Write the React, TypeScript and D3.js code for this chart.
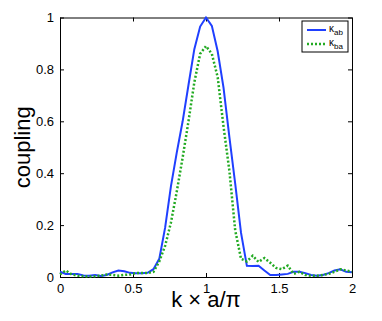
import React, { useEffect, useRef } from "react";
import * as d3 from "d3";

// k*a/pi sample points
const kValues = d3.range(0, 51).map((i) => i * 0.04);

const kappaAb = [
  0.02, 0.012, 0.012, 0.012, 0.006, 0.005, 0.008, 0.004, 0.008, 0.018,
  0.025, 0.022, 0.016, 0.014, 0.014, 0.016, 0.03, 0.07, 0.19, 0.35,
  0.48, 0.6, 0.74, 0.878, 0.965, 1.0, 0.968, 0.87, 0.73, 0.54,
  0.36, 0.17, 0.043, 0.042, 0.043, 0.025, 0.008, 0.008, 0.01, 0.012,
  0.02, 0.02, 0.015, 0.008, 0.005, 0.008, 0.015, 0.025, 0.03, 0.02,
  0.018,
];

const kappaBa = [
  0.01, 0.025, 0.01, 0.005, 0.003, 0.002, 0.003, 0.005, 0.01, 0.008,
  0.005, 0.008, 0.01, 0.015, 0.015, 0.015, 0.02, 0.06, 0.12, 0.21,
  0.33, 0.46, 0.6, 0.75, 0.86, 0.89, 0.86, 0.77, 0.58, 0.41,
  0.18, 0.07, 0.06, 0.082, 0.058, 0.073, 0.055, 0.035, 0.03, 0.044,
  0.012, 0.02, 0.008, 0.005, 0.005, 0.008, 0.012, 0.02, 0.03, 0.025,
  0.02,
];

const xTicks = [0, 0.5, 1, 1.5, 2];
const yTicks = [0, 0.2, 0.4, 0.6, 0.8, 1];

const width = 382,
  height = 321;
const margin = { left: 60, right: 30, top: 17.5, bottom: 44 };

const App = () => {
  const ref = useRef<SVGSVGElement | null>(null);

  useEffect(() => {
    const svg = d3.select(ref.current);
    svg.selectAll("*").remove();

    const x = d3
      .scaleLinear()
      .domain([0, 2])
      .range([margin.left, width - margin.right]);
    const y = d3
      .scaleLinear()
      .domain([0, 1])
      .range([height - margin.bottom, margin.top]);

    svg.append("rect").attr("width", width).attr("height", height).attr("fill", "white");

    const font = "Arial, 'Liberation Sans', sans-serif";

    // axes (ticks inward, box like matlab)
    const bottom = svg
      .append("g")
      .attr("transform", `translate(0,${y(0)})`)
      .call(d3.axisBottom(x).tickValues(xTicks).tickSizeInner(-4).tickSizeOuter(0).tickPadding(7).tickFormat(d3.format("")));
    const left = svg
      .append("g")
      .attr("transform", `translate(${x(0)},0)`)
      .call(d3.axisLeft(y).tickValues(yTicks).tickSizeInner(-4).tickSizeOuter(0).tickPadding(6).tickFormat(d3.format("")));
    svg
      .append("g")
      .attr("transform", `translate(0,${y(1)})`)
      .call(d3.axisTop(x).tickValues(xTicks).tickSizeInner(-4).tickSizeOuter(0).tickFormat(() => ""));
    svg
      .append("g")
      .attr("transform", `translate(${x(2)},0)`)
      .call(d3.axisRight(y).tickValues(yTicks).tickSizeInner(-4).tickSizeOuter(0).tickFormat(() => ""));

    svg.selectAll(".domain").attr("stroke", "#000");
    svg.selectAll(".tick line").attr("stroke", "#000");
    [bottom, left].forEach((g) =>
      g.selectAll(".tick text").attr("font-size", 13).attr("font-family", font).attr("fill", "#000")
    );

    const line = (vals: number[]) =>
      d3
        .line<number>()
        .x((_, i) => x(kValues[i]))
        .y((d) => y(d))(vals);

    svg
      .append("path")
      .attr("d", line(kappaAb))
      .attr("fill", "none")
      .attr("stroke", "#1f3fff")
      .attr("stroke-width", 2);
    svg
      .append("path")
      .attr("d", line(kappaBa))
      .attr("fill", "none")
      .attr("stroke", "#22aa22")
      .attr("stroke-width", 2.5)
      .attr("stroke-dasharray", "2,2");

    // axis labels
    svg
      .append("text")
      .attr("x", x(1))
      .attr("y", 307)
      .attr("text-anchor", "middle")
      .attr("font-family", font)
      .attr("font-size", 22)
      .text("k × a/π");
    svg
      .append("text")
      .attr("transform", `translate(30,${y(0.5)}) rotate(-90)`)
      .attr("text-anchor", "middle")
      .attr("font-family", font)
      .attr("font-size", 22)
      .text("coupling");

    // legend
    const lg = svg.append("g").attr("transform", "translate(302,21)");
    lg.append("rect").attr("width", 46).attr("height", 31).attr("fill", "white").attr("stroke", "#000").attr("stroke-width", 1);
    const items = [
      { sub: "ab", color: "#1f3fff", dash: null, w: 2 },
      { sub: "ba", color: "#22aa22", dash: "2,2", w: 2.5 },
    ];
    items.forEach((it, i) => {
      const cy = 9 + i * 14;
      lg.append("line")
        .attr("x1", 5)
        .attr("x2", 24)
        .attr("y1", cy)
        .attr("y2", cy)
        .attr("stroke", it.color)
        .attr("stroke-width", it.w)
        .attr("stroke-dasharray", it.dash);
      const t = lg
        .append("text")
        .attr("x", 27)
        .attr("y", cy + 2)
        .attr("font-family", font)
        .attr("font-size", 10);
      t.append("tspan").text("κ");
      t.append("tspan").attr("dy", 3).attr("font-size", 8).text(it.sub);
    });
  }, []);

  return <svg ref={ref} width={width} height={height} style={{ display: "block", position: "absolute", left: 0, top: 0 }} />;
};

export default App;
